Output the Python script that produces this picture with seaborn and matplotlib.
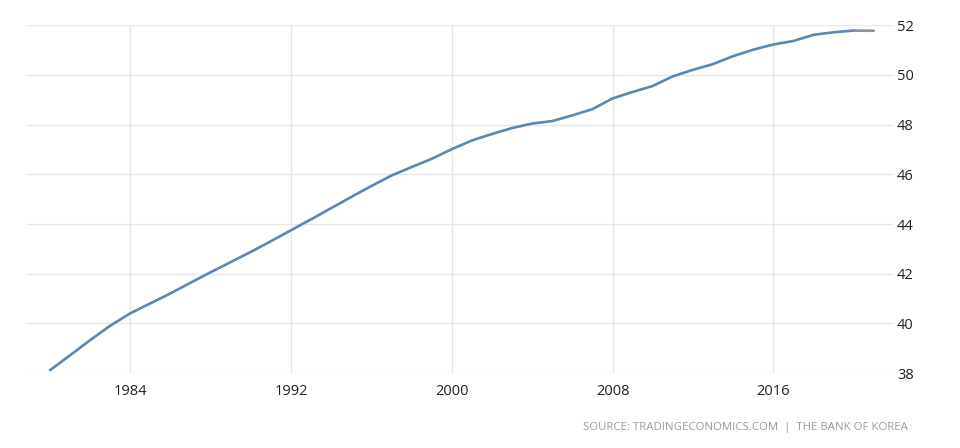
import matplotlib
matplotlib.use("Agg")
import matplotlib.pyplot as plt
import seaborn as sns
import pandas as pd

years = list(range(1980, 2022))
population = [38.12, 38.72, 39.33, 39.91, 40.41, 40.81, 41.21, 41.64, 42.06, 42.47,
              42.88, 43.31, 43.75, 44.19, 44.64, 45.09, 45.53, 45.95, 46.29, 46.62,
              47.01, 47.36, 47.62, 47.86, 48.04, 48.14, 48.37, 48.62, 49.05, 49.31,
              49.55, 49.94, 50.20, 50.43, 50.75, 51.01, 51.22, 51.36, 51.61, 51.71,
              51.78, 51.77]
x_ticks = [1984, 1992, 2000, 2008, 2016]
y_ticks = [38, 40, 42, 44, 46, 48, 50, 52]
source_text = "SOURCE: TRADINGECONOMICS.COM  |  THE BANK OF KOREA"

df = pd.DataFrame({"year": years, "population": population})
main = df[df["year"] <= 2020]
tail = df[df["year"] >= 2020]

sns.set_theme(style="white")
plt.rcParams["font.family"] = ["Open Sans", "DejaVu Sans"]

fig = plt.figure(figsize=(9.6, 4.48), dpi=100)
ax = fig.add_axes([0.028, 0.167, 0.902, 0.777])

sns.lineplot(data=main, x="year", y="population", ax=ax, color="#5b87b3", linewidth=1.9)
sns.lineplot(data=tail, x="year", y="population", ax=ax, color="#8a8f96", linewidth=1.9)

ax.set_xlim(1978.85, 2021.95)
ax.set_ylim(38, 52)
ax.set_xticks(x_ticks)
ax.set_yticks(y_ticks)
ax.yaxis.tick_right()
ax.set_xlabel("")
ax.set_ylabel("")
ax.grid(True, color="#e6e6e6", linewidth=1.0)
for s in ax.spines.values():
    s.set_visible(False)
ax.tick_params(axis="both", length=0, labelsize=10.5, labelcolor="#222222")
ax.tick_params(axis="x", pad=8)
ax.tick_params(axis="y", pad=3)

fig.text(0.607, 0.045, source_text, fontsize=8.2, color="#9a9a9a", ha="left", va="center")

fig.savefig("out.png", dpi=100)
